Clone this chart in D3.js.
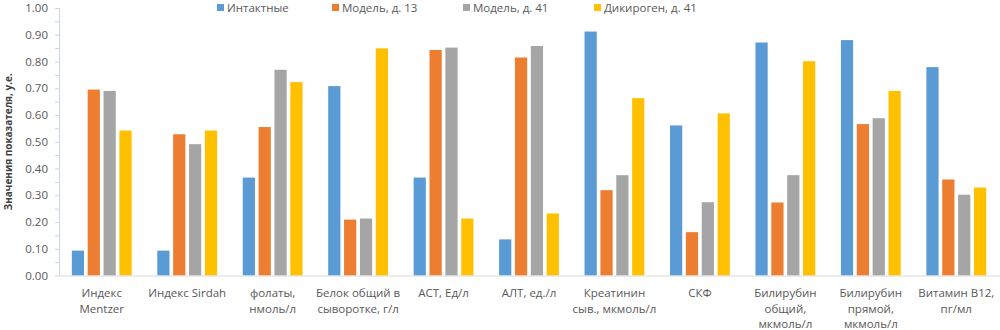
<!DOCTYPE html>
<html>
<head>
<meta charset="utf-8">
<script src="https://cdn.jsdelivr.net/npm/d3@7"></script>
<style>
  body { margin: 0; background: #fff; }
  text { font-family: "Open Sans", sans-serif; fill: #595959; }
</style>
</head>
<body>
<div id="chart"></div>
<script>
// categories (lines of each x label)
var categories = [
  ["Индекс", "Mentzer"],
  ["Индекс Sirdah"],
  ["фолаты,", "нмоль/л"],
  ["Белок общий в", "сыворотке, г/л"],
  ["АСТ, Ед/л"],
  ["АЛТ, ед./л"],
  ["Креатинин", "сыв., мкмоль/л"],
  ["СКФ"],
  ["Билирубин", "общий,", "мкмоль/л"],
  ["Билирубин", "прямой,", "мкмоль/л"],
  ["Витамин В12,", "пг/мл"]
];
var seriesNames = ["Интактные", "Модель, д. 13", "Модель, д. 41", "Дикироген, д. 41"];
var intact   = [0.093, 0.093, 0.366, 0.708, 0.366, 0.135, 0.912, 0.561, 0.871, 0.880, 0.779];
var model13  = [0.695, 0.528, 0.555, 0.209, 0.843, 0.815, 0.319, 0.162, 0.273, 0.566, 0.359];
var model41  = [0.690, 0.491, 0.769, 0.213, 0.852, 0.858, 0.375, 0.274, 0.375, 0.588, 0.302];
var dikirogen = [0.542, 0.542, 0.723, 0.849, 0.213, 0.232, 0.663, 0.606, 0.801, 0.690, 0.329];
var yTicks = [0, 0.1, 0.2, 0.3, 0.4, 0.5, 0.6, 0.7, 0.8, 0.9, 1.0];

function drawChart() {
  var w = 1000, h = 330;
  var margin = {top: 8, right: 1, bottom: 54, left: 59};
  var values = [intact, model13, model41, dikirogen];
  var color = d3.scaleOrdinal()
    .domain(seriesNames)
    .range(["#5B9BD5", "#ED7D31", "#A5A5A5", "#FFC000"]);

  var svg = d3.select("#chart").append("svg")
    .attr("width", w)
    .attr("height", h);

  var xScale = d3.scaleBand()
    .domain(d3.range(categories.length))
    .range([margin.left, w - margin.right])
    .paddingInner(0.3)
    .paddingOuter(0.15);

  var xSub = d3.scaleBand()
    .domain(seriesNames)
    .range([0, xScale.bandwidth()])
    .paddingInner(0.23);

  var yScale = d3.scaleLinear()
    .domain([0, 1])
    .range([h - margin.bottom - 0.5, margin.top]);

  // y axis
  var yAxis = svg.append("g")
    .attr("transform", "translate(" + margin.left + ",0)")
    .call(d3.axisLeft(yScale).tickValues(d3.range(0, 1.0001, 0.05)).tickSize(4).tickFormat(""));
  yAxis.selectAll("line, path").attr("stroke", "#C8D4E3");
  yAxis.select(".domain").attr("d", "M0.5," + yScale(0) + "V" + yScale(1));

  svg.append("g").selectAll("text")
    .data(yTicks)
    .enter().append("text")
    .attr("x", 48)
    .attr("y", function(d) { return yScale(d); })
    .attr("dy", "0.35em")
    .attr("text-anchor", "end")
    .attr("font-size", "11.5px")
    .text(function(d) { return d.toFixed(2); });

  // bars
  var groups = svg.append("g").selectAll("g")
    .data(values)
    .enter().append("g")
    .attr("fill", function(d, i) { return color(seriesNames[i]); });

  groups.each(function(vals, si) {
    d3.select(this).selectAll("rect")
      .data(vals)
      .enter().append("rect")
      .attr("x", function(d, i) { return xScale(i) + xSub(seriesNames[si]); })
      .attr("y", function(d) { return yScale(d); })
      .attr("width", xSub.bandwidth())
      .attr("height", function(d) { return yScale(0) - yScale(d); });
  });

  // x axis line
  svg.append("line")
    .attr("x1", margin.left)
    .attr("x2", w)
    .attr("y1", yScale(0) + 0.5)
    .attr("y2", yScale(0) + 0.5)
    .attr("stroke", "#D9D9D9");

  // x labels
  var labels = svg.append("g").selectAll("text")
    .data(categories)
    .enter().append("text")
    .attr("text-anchor", "middle")
    .attr("font-size", "11.5px")
    .attr("transform", function(d, i) {
      return "translate(" + (xScale(i) + xScale.bandwidth() / 2) + ",297)";
    });
  labels.selectAll("tspan")
    .data(function(d) { return d; })
    .enter().append("tspan")
    .attr("x", 0)
    .attr("dy", function(d, i) { return i === 0 ? 0 : 15.5; })
    .text(function(d) { return d; });

  // y title
  svg.append("text")
    .attr("transform", "translate(12," + ((yScale(0) + yScale(1)) / 2) + ") rotate(-90)")
    .attr("text-anchor", "middle")
    .attr("font-size", "10px")
    .attr("font-weight", "bold")
    .style("fill", "#404040")
    .text("Значения показателя, у.е.");

  // legend
  var legendX = [217, 332, 463, 594];
  var legend = svg.append("g").selectAll("g")
    .data(seriesNames)
    .enter().append("g")
    .attr("transform", function(d, i) { return "translate(" + legendX[i] + ",4)"; });
  legend.append("rect")
    .attr("width", 7)
    .attr("height", 7)
    .attr("fill", function(d) { return color(d); });
  legend.append("text")
    .attr("x", 10)
    .attr("y", 3.5)
    .attr("dy", "0.35em")
    .attr("font-size", "11.5px")
    .text(function(d) { return d; });
}

window.onload = function () {
  drawChart();
};
</script>
</body>
</html>
